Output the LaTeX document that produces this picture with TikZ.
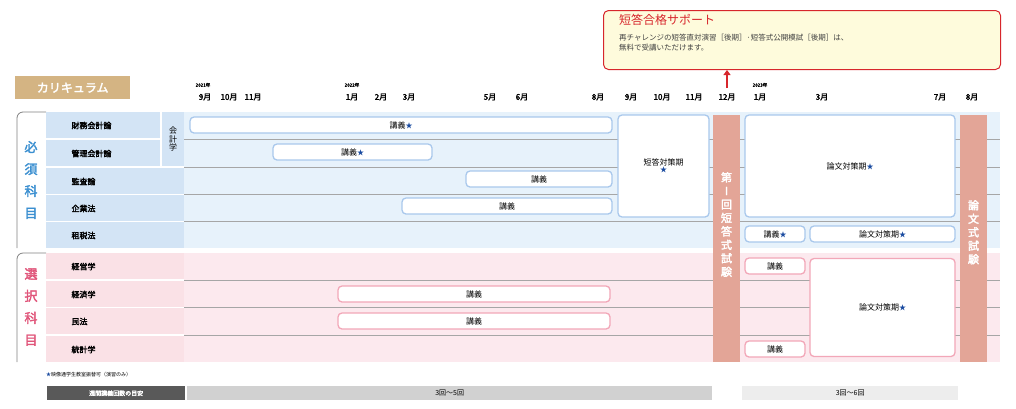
\documentclass[tikz,border=0pt]{standalone}
\usepackage{fontspec}
\usetikzlibrary{arrows.meta}
\setmainfont{Noto Sans CJK JP}[AutoFakeBold=2.5]
\definecolor{reqbg}{HTML}{E7F2FB}
\definecolor{reqcell}{HTML}{D3E4F5}
\definecolor{reqline}{HTML}{A9C8EC}
\definecolor{reqtxt}{HTML}{3B8FD0}
\definecolor{elebg}{HTML}{FCE9EE}
\definecolor{elecell}{HTML}{FAE1E6}
\definecolor{eleline}{HTML}{F2A7B8}
\definecolor{eletxt}{HTML}{E0557A}
\definecolor{exam}{HTML}{E3A597}
\definecolor{tan}{HTML}{D4B483}
\definecolor{starblue}{HTML}{1A4BA0}
\definecolor{supred}{HTML}{D7262C}
\definecolor{supbg}{HTML}{FEFBDC}
\newcommand{\bstar}{{\color{starblue}\scriptsize★}}
\tikzset{
  month/.style={font=\bfseries\fontsize{8}{9}\selectfont},
  year/.style={font=\bfseries\fontsize{4.5}{5}\selectfont},
  subj/.style={font=\bfseries\fontsize{8}{9}\selectfont, anchor=west},
  bluebar/.style={draw=reqline, line width=1.3pt, fill=white, rounded corners=4pt,
    minimum height=16, inner sep=0pt, font=\fontsize{8}{9}\selectfont},
  pinkbar/.style={bluebar, draw=eleline},
  pillar/.style={fill=exam, inner sep=0pt, text=white, align=center,
    font=\bfseries\fontsize{10}{11}\selectfont},
  rowline/.style={gray!70, line width=0.5pt},
}
\begin{document}
\begin{tikzpicture}[x=1pt,y=-1pt]
\useasboundingbox (0,0) rectangle (1016,408);
% support callout
\node[draw=supred, line width=1pt, fill=supbg, rounded corners=5pt, minimum width=397,
  minimum height=59, anchor=north west] (sup) at (603,10) {};
\node[anchor=north west, text=supred, font=\fontsize{12}{13}\selectfont, inner sep=0pt]
  (suptitle) at (619,14) {短答合格サポート};
\node[anchor=north west, text=black!75, align=left, inner sep=0pt,
  font=\fontsize{7.5}{10}\selectfont] (suptext) at (619,34)
  {再チャレンジの短答直対演習［後期］·短答式公開模試［後期］は、\\無料で受講いただけます。};
\coordinate (arrowfoot) at (727,88);
\draw[supred, line width=2pt, -{Triangle[length=5pt,width=7pt]}] (arrowfoot) -- (sup.south -| arrowfoot);
% title
\node[fill=tan, text=white, minimum width=115, minimum height=23, anchor=north west,
  font=\bfseries\fontsize{12}{13}\selectfont] (title) at (15,76) {カリキュラム};
% months
\foreach \x/\m in {205/9月,229/10月,253/11月,352/1月,381/2月,409/3月,490/5月,522/6月,
  598/8月,631/9月,662/10月,694/11月,727/12月,760/1月,822/3月,940/7月,972/8月}
  \node[month] (m\x) at (\x,97) {\m};
\node[year] (y21) at (203,85) {2021年};
\node[year] (y22) at (352,85) {2022年};
\node[year] (y23) at (760,85) {2023年};
% backgrounds
\fill[reqbg] (184,112) rectangle (1000,248);
\fill[elebg] (184,253) rectangle (1000,362);
\foreach \y in {139,167,194,221} \draw[rowline] (184,\y) -- (1000,\y);
\foreach \y in {280,307,335} \draw[rowline] (184,\y) -- (1000,\y);
% required labels
\draw[gray, line width=0.8pt, rounded corners=6pt] (46,112) -- (17,112) -- (17,248);
\node[text=reqtxt, align=center, font=\bfseries\fontsize{13}{22}\selectfont] (req) at (31,180) {必\\須\\科\\目};
\foreach \i/\y/\w/\s in {1/112/114/財務会計論,2/140/114/管理会計論,3/168/138/監査論,4/195/138/企業法,5/222/138/租税法}{
  \fill[reqcell] (46,\y) rectangle ++(\w,26);
  \node[subj] (rs\i) at (68,\y+13.5) {\s};
}
\fill[reqcell] (162,112) rectangle (184,166);
\node[align=center, font=\fontsize{8}{8.5}\selectfont] (kaikei) at (173,139) {会\\計\\学};
% elective labels
\draw[gray, line width=0.8pt, rounded corners=6pt] (46,253) -- (17,253) -- (17,362);
\node[text=eletxt, align=center, font=\bfseries\fontsize{13}{22}\selectfont] (ele) at (31,307) {選\\択\\科\\目};
\foreach \i/\y/\s in {1/253/経営学,2/281/経済学,3/308/民法,4/336/統計学}{
  \fill[elecell] (46,\y) rectangle ++(138,26);
  \node[subj] (es\i) at (68,\y+13.5) {\s};
}
% required bars
\node[bluebar, minimum width=422] (fa) at (401,125) {講義\bstar};
\node[bluebar, minimum width=159] (ma) at (352.5,152) {講義\bstar};
\node[bluebar, minimum width=146] (au) at (539,179) {講義};
\node[bluebar, minimum width=210] (cl) at (507,206) {講義};
\node[bluebar, minimum width=91, minimum height=102, align=center] (tanto) at (663.5,166) {短答対策期\\[-2pt]\bstar};
\node[bluebar, minimum width=210, minimum height=102] (ronbun) at (850,166) {論文対策期\bstar};
\node[bluebar, minimum width=60] (taxl) at (775,234) {講義\bstar};
\node[bluebar, minimum width=145] (taxr) at (882.5,234) {論文対策期\bstar};
% elective bars
\node[pinkbar, minimum width=60] (mgl) at (775,266) {講義};
\node[pinkbar, minimum width=272] (ecl) at (474,294) {講義};
\node[pinkbar, minimum width=272] (cvl) at (474,321) {講義};
\node[pinkbar, minimum width=60] (stl) at (775,349) {講義};
\node[pinkbar, minimum width=145, minimum height=98] (eler) at (882.5,307.5) {論文対策期\bstar};
% exam pillars
\node[pillar, minimum width=27, minimum height=247] (exam1) at (726.5,238.5) {};
\node[pillar, anchor=north, font=\bfseries\fontsize{11}{13.5}\selectfont] (exam1t) at (726.5,172) {第\\I\\回\\短\\答\\式\\試\\験};
\node[pillar, minimum width=27, minimum height=247] (exam2) at (973.5,238.5) {};
\node[pillar, anchor=north, font=\bfseries\fontsize{11}{13.5}\selectfont] (exam2t) at (973.5,200) {論\\文\\式\\試\\験};
% footer
\node[anchor=west, inner sep=0pt, font=\fontsize{5}{6}\selectfont] (note) at (46,375) {\textcolor{starblue}{★}映像通学生教室振替可（演習のみ）};
\node[fill=black!65, text=white, minimum width=138, minimum height=14, anchor=north west,
  inner sep=0pt, font=\bfseries\fontsize{6}{7}\selectfont] (weekly) at (47,386) {週間講義回数の目安};
\node[fill=black!18, minimum width=525, minimum height=14, anchor=north west, inner sep=0pt,
  font=\fontsize{7}{8}\selectfont] (freq1) at (187,386) {3回～5回};
\node[fill=black!7, minimum width=216, minimum height=14, anchor=north west, inner sep=0pt,
  font=\fontsize{7}{8}\selectfont] (freq2) at (742,386) {3回～6回};
\end{tikzpicture}
\end{document}
